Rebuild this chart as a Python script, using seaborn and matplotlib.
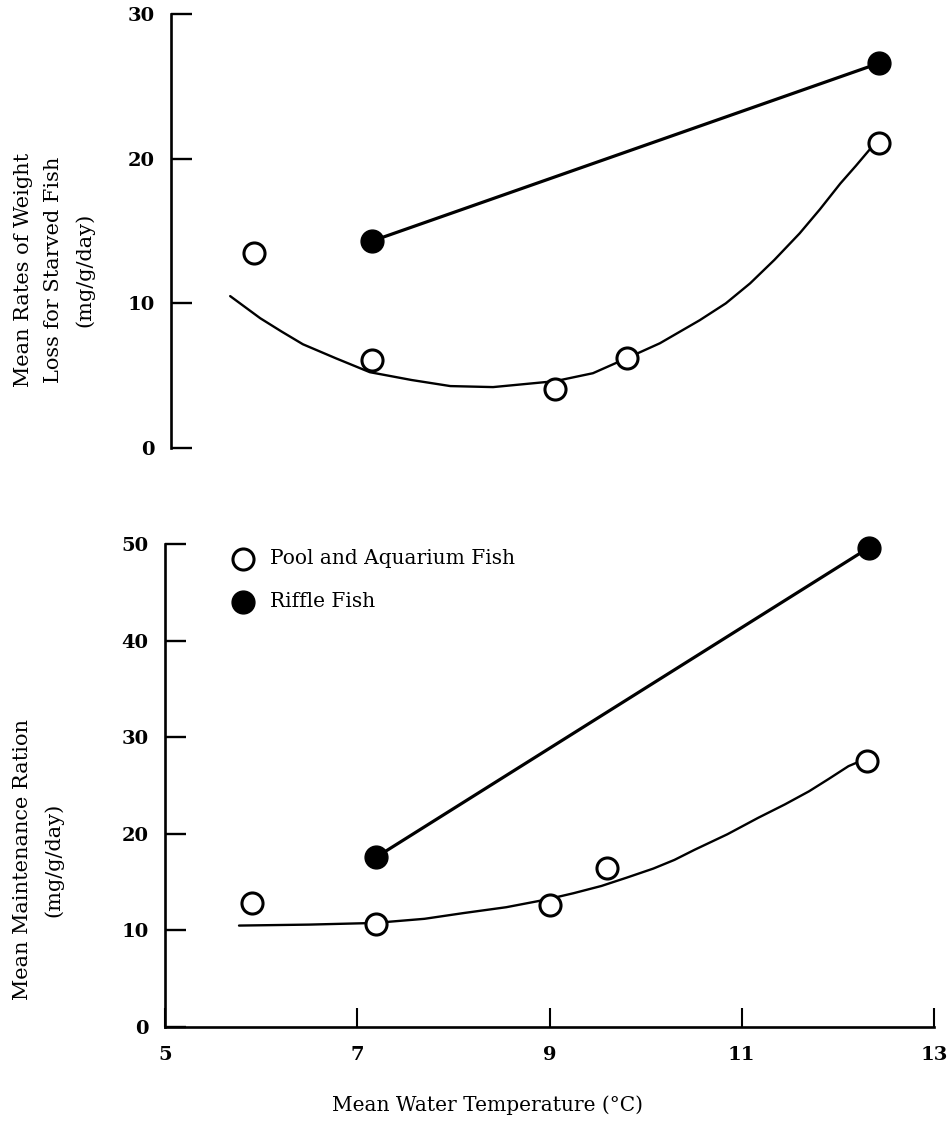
import matplotlib
matplotlib.use("Agg")
import matplotlib.pyplot as plt
import seaborn as sns

# --- data ---
# top panel: weight loss of starved fish (mg/g/day)
loss_pool_t = [5.86, 7.07, 8.96, 9.7, 12.3]
loss_pool_v = [13.5, 6.1, 4.1, 6.2, 21.1]
loss_riffle_t = [7.07, 12.3]
loss_riffle_v = [14.3, 26.6]
# hand drawn curve through the pool points
loss_curve_t = [5.61, 5.92, 6.14, 6.36, 6.7, 7.05, 7.48, 7.88, 8.32, 8.96,
                9.35, 9.7, 10.04, 10.45, 10.72, 10.97, 11.22, 11.48, 11.69,
                11.9, 12.06, 12.21, 12.31]
loss_curve_v = [10.5, 8.97, 8.05, 7.17, 6.2, 5.24, 4.7, 4.28, 4.21, 4.62,
                5.17, 6.21, 7.24, 8.83, 10.0, 11.38, 13.0, 14.83, 16.5,
                18.28, 19.5, 20.69, 21.2]

# bottom panel: maintenance ration (mg/g/day)
ration_pool_t = [5.9, 7.2, 9.0, 9.6, 12.3]
ration_pool_v = [12.8, 10.7, 12.6, 16.5, 27.5]
ration_riffle_t = [7.2, 12.32]
ration_riffle_v = [17.6, 49.6]
ration_curve_t = [5.77, 6.5, 7.18, 7.7, 8.11, 8.55, 8.97, 9.25, 9.54, 9.8,
                  10.08, 10.3, 10.51, 10.85, 11.17, 11.45, 11.7, 11.9, 12.11,
                  12.24]
ration_curve_v = [10.5, 10.6, 10.77, 11.2, 11.8, 12.4, 13.2, 13.85, 14.6, 15.45,
                  16.4, 17.3, 18.35, 19.95, 21.65, 23.05, 24.4, 25.65, 27.0,
                  27.55]

x_ticks = [5, 7, 9, 11, 13]
loss_ticks = [0, 10, 20, 30]
ration_ticks = [0, 10, 20, 30, 40, 50]

sns.set_style("ticks")
plt.rcParams['font.family'] = ['DejaVu Serif', 'DejaVu Sans']
plt.rcParams['text.color'] = 'black'
plt.rcParams['axes.edgecolor'] = 'black'
plt.rcParams['xtick.color'] = 'black'
plt.rcParams['ytick.color'] = 'black'

fig = plt.figure(figsize=(9.5, 11.25), dpi=100)
ax1 = fig.add_axes([171 / 950, 1 - 448 / 1125, 776 / 950, 434 / 1125])
ax2 = fig.add_axes([165 / 950, 1 - 1027 / 1125, 769 / 950, 483 / 1125])

def draw_panel(ax, pool_t, pool_v, riff_t, riff_v, curve_t, curve_v, labels):
    sns.lineplot(x=curve_t, y=curve_v, ax=ax, color='black', lw=1.7,
                 estimator=None, sort=False)
    sns.lineplot(x=riff_t, y=riff_v, ax=ax, color='black', lw=2.3,
                 estimator=None, sort=False)
    sns.scatterplot(x=pool_t, y=pool_v, ax=ax, s=230, color='black',
                    facecolor='white', edgecolor='black', linewidth=2.2,
                    zorder=3, clip_on=False,
                    label='Pool and Aquarium Fish' if labels else None)
    sns.scatterplot(x=riff_t, y=riff_v, ax=ax, s=270, color='black',
                    edgecolor='black', linewidth=1, zorder=3, clip_on=False,
                    label='Riffle Fish' if labels else None)

draw_panel(ax1, loss_pool_t, loss_pool_v, loss_riffle_t, loss_riffle_v,
           loss_curve_t, loss_curve_v, False)
draw_panel(ax2, ration_pool_t, ration_pool_v, ration_riffle_t, ration_riffle_v,
           ration_curve_t, ration_curve_v, True)

tick_font = dict(fontsize=14, fontweight='bold')

# top panel
ax1.set_xlim(5, 13)
ax1.set_ylim(0, 30)
for s in ['top', 'right', 'bottom']:
    ax1.spines[s].set_visible(False)
ax1.spines['left'].set_linewidth(1.9)
ax1.set_xticks([])
ax1.set_yticks(loss_ticks)
ax1.set_yticklabels([str(t) for t in loss_ticks], **tick_font)
ax1.tick_params(axis='y', direction='in', length=15, width=1.7, pad=12)

# bottom panel
ax2.set_xlim(5, 13)
ax2.set_ylim(0, 50)
for s in ['top', 'right']:
    ax2.spines[s].set_visible(False)
for s in ['left', 'bottom']:
    ax2.spines[s].set_linewidth(1.9)
ax2.set_xticks(x_ticks)
ax2.set_xticklabels([str(t) for t in x_ticks], **tick_font)
ax2.set_yticks(ration_ticks)
ax2.set_yticklabels([str(t) for t in ration_ticks], **tick_font)
ax2.tick_params(axis='y', direction='in', length=15, width=1.7, pad=12)
ax2.tick_params(axis='x', direction='in', length=14, width=1.5, pad=14)

ax2.legend(loc='upper left', bbox_to_anchor=(0.075, 0.99), frameon=False,
           fontsize=14.5, handletextpad=0.35, labelspacing=1.2,
           borderaxespad=0, borderpad=0)

ax1.set_ylabel('')
ax2.set_ylabel('')
ax2.set_xlabel('')

fig.text(54 / 950, 1 - 270 / 1125,
         'Mean Rates of Weight\nLoss for Starved Fish\n(mg/g/day)',
         rotation=90, ha='center', va='center', multialignment='center',
         fontsize=15, linespacing=1.75)
fig.text(38 / 950, 1 - 860 / 1125,
         'Mean Maintenance Ration\n(mg/g/day)',
         rotation=90, ha='center', va='center', multialignment='center',
         fontsize=15, linespacing=1.75)
fig.text(488 / 950, 1 - 1105 / 1125, 'Mean Water Temperature (°C)',
         ha='center', va='center', fontsize=14.5)

fig.savefig('out.png', dpi=100)
plt.close(fig)
